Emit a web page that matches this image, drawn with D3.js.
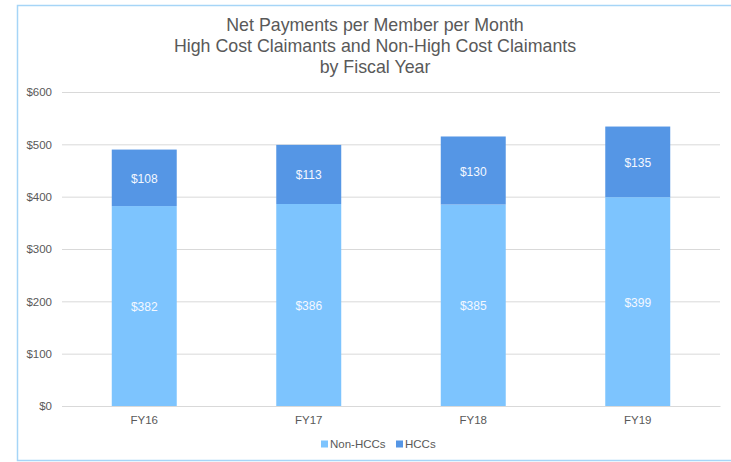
<!DOCTYPE html>
<html>
<head>
<meta charset="utf-8">
<script src="https://cdn.jsdelivr.net/npm/d3@7"></script>
<style>
  body { margin: 0; background: #fff; }
  text { font-family: "Liberation Sans", Arial, sans-serif; }
</style>
</head>
<body>
<div id="chart"></div>
<script>
const years = ["FY16", "FY17", "FY18", "FY19"];
const nonHcc = [382, 386, 385, 399];
const hcc = [108, 113, 130, 135];
const yTicks = [0, 100, 200, 300, 400, 500, 600];
const seriesNames = ["Non-HCCs", "HCCs"];
const titleLines = [
  "Net Payments per Member per Month",
  "High Cost Claimants and Non-High Cost Claimants",
  "by Fiscal Year"
];

const colors = { "Non-HCCs": "#7dc4fe", "HCCs": "#5596e5" };
const width = 731, height = 462;
const margin = { top: 92, right: 11, bottom: 56, left: 62 };
const innerW = width - margin.left - margin.right;
const innerH = height - margin.top - margin.bottom;

const svg = d3.select("#chart")
  .append("svg")
    .attr("width", width)
    .attr("height", height);

// chart frame
svg.append("rect")
  .attr("x", 17.5)
  .attr("y", 5.5)
  .attr("width", 730)
  .attr("height", 455)
  .attr("fill", "none")
  .attr("stroke", "#a6d5f7")
  .attr("stroke-width", 1.5);

// title
svg.append("text")
  .attr("x", 375)
  .attr("y", 31)
  .attr("text-anchor", "middle")
  .attr("font-size", 17.8)
  .attr("fill", "#595959")
  .selectAll("tspan")
  .data(titleLines)
  .enter()
  .append("tspan")
    .attr("x", 375)
    .attr("dy", (d, i) => i === 0 ? 0 : 21)
    .text(d => d);

const g = svg.append("g")
  .attr("transform", `translate(${margin.left}, ${margin.top})`);

const x = d3.scaleBand()
  .domain(years)
  .range([0, innerW])
  .paddingInner(0.605)
  .paddingOuter(0.3025);

const y = d3.scaleLinear()
  .domain([0, 600])
  .range([innerH, 0]);

// gridlines + y labels
const yAxis = d3.axisLeft(y)
  .tickValues(yTicks)
  .tickSize(-innerW)
  .tickPadding(10)
  .tickFormat(d => `$${d}`);
const yg = g.append("g").call(yAxis);
yg.select(".domain").remove();
yg.selectAll("line").attr("stroke", "#d9d9d9");
yg.selectAll("text")
  .attr("fill", "#595959")
  .attr("font-size", 11.5)
  .attr("font-family", "Liberation Sans, Arial, sans-serif");

// stacked data
const rows = years.map((yr, i) => ({ year: yr, "Non-HCCs": nonHcc[i], "HCCs": hcc[i] }));
const stacked = d3.stack().keys(seriesNames)(rows);

const layers = g.selectAll(".layer")
  .data(stacked)
  .enter()
  .append("g")
    .attr("class", "layer")
    .attr("fill", d => colors[d.key]);

layers.selectAll("rect")
  .data(d => d)
  .enter()
  .append("rect")
    .attr("x", d => x(d.data.year))
    .attr("y", d => y(d[1]))
    .attr("width", x.bandwidth())
    .attr("height", d => y(d[0]) - y(d[1]));

layers.selectAll("text")
  .data(d => d)
  .enter()
  .append("text")
    .attr("x", d => x(d.data.year) + x.bandwidth() / 2)
    .attr("y", d => y((d[0] + d[1]) / 2) + 5)
    .attr("text-anchor", "middle")
    .attr("font-size", 12)
    .attr("fill", "#f4f8ff")
    .text(d => `$${d[1] - d[0]}`);

// x axis
const xAxis = d3.axisBottom(x).tickSize(0).tickPadding(10);
const xg = g.append("g")
  .attr("transform", `translate(0, ${innerH})`)
  .call(xAxis);
xg.select(".domain").attr("stroke", "#d9d9d9");
xg.selectAll("text")
  .attr("fill", "#595959")
  .attr("font-size", 11.5)
  .attr("font-family", "Liberation Sans, Arial, sans-serif");

// legend
const legendPos = [321, 396];
const legend = svg.selectAll(".legend")
  .data(seriesNames)
  .enter()
  .append("g")
    .attr("class", "legend")
    .attr("transform", (d, i) => `translate(${legendPos[i]}, 444)`);
legend.append("rect")
  .attr("x", 0)
  .attr("y", -3.5)
  .attr("width", 7)
  .attr("height", 7)
  .attr("fill", d => colors[d]);
legend.append("text")
  .attr("x", 9)
  .attr("y", 4)
  .attr("font-size", 11.5)
  .attr("fill", "#595959")
  .text(d => d);
</script>
</body>
</html>
